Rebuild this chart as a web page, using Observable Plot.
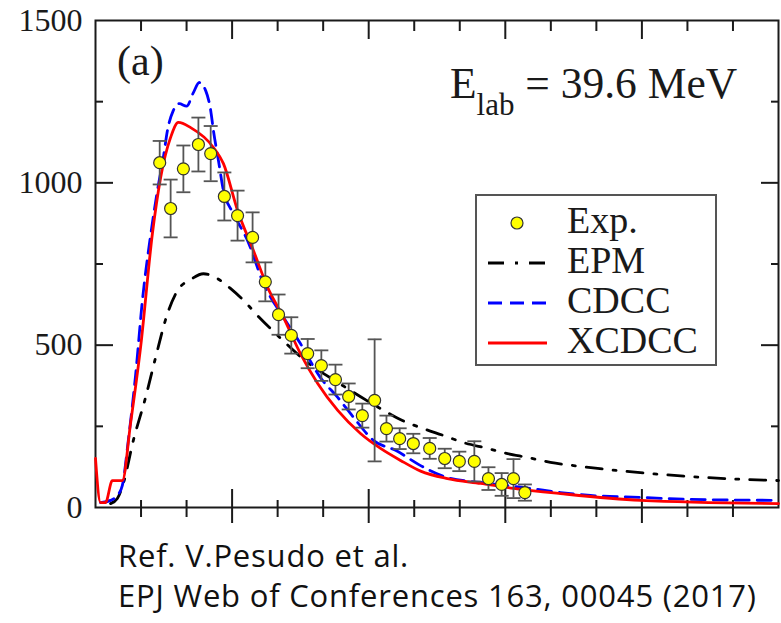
<!DOCTYPE html>
<html>
<head>
<meta charset="utf-8">
<script src="https://cdn.jsdelivr.net/npm/d3@7"></script>
<script src="https://cdn.jsdelivr.net/npm/@observablehq/plot@0.6"></script>
<style>
  body { margin: 0; background: #fff; }
  #wrap { position: relative; width: 781px; height: 623px; overflow: hidden; background: #fff; }
  #chart svg { display: block; }
  #overlay { position: absolute; left: 0; top: 0; pointer-events: none; }
  .caption { position: absolute; left: 118px; font-family: "Open Sans", "Noto Sans", sans-serif;
             font-size: 31px; letter-spacing: 0.8px; line-height: 1; color: #111; white-space: nowrap; }
</style>
</head>
<body>
<div id="wrap">
  <div id="chart"></div>
  <svg id="overlay" width="781" height="530"></svg>
  <div class="caption" style="top:540px">Ref. V.Pesudo et al.</div>
  <div class="caption" style="top:580px">EPJ Web of Conferences 163, 00045 (2017)</div>
</div>
<script>
// Experimental angular distribution (with uncertainties)
const expTheta = [14.1, 16.5, 19.3, 22.6, 25.3, 28.3, 31.2, 34.5, 37.3, 40.2, 43.0, 46.6, 49.6, 52.7,
                  55.6, 58.6, 61.3, 63.9, 66.8, 69.8, 73.4, 76.7, 79.9, 83.2, 86.3, 89.2, 91.8, 94.3];
const expValue = [1062, 921, 1043, 1118, 1090, 958, 899, 832, 695, 594, 530, 474, 437, 394,
                  342, 283, 330, 243, 212, 197, 182, 151, 142, 142, 89, 71, 89, 46];
const expError = [67, 89, 72, 83, 85, 74, 77, 77, 60, 62, 56, 45, 47, 46,
                  40, 37, 188, 40, 32, 30, 32, 30, 30, 62, 35, 35, 60, 25];

// EPM calculation
const epmTheta = [3.3, 4.8, 6.1, 8.3, 11.0, 13.2, 15.8, 18.0, 20.9, 23.7, 26.4, 29.7, 32.5, 36.2, 40.0,
                  46.0, 53.8, 63.3, 67.4, 72.0, 76.4, 80.8, 86.1, 90.5, 94.9, 99.9, 105.0, 114.6,
                  124.1, 134.4, 143.2, 150];
const epmValue = [12, 28, 74, 206, 339, 462, 597, 668, 702, 720, 708, 674, 638, 582, 530,
                  453, 380, 299, 268, 243, 222, 200, 182, 166, 154, 139, 129, 114,
                  102, 92, 86, 83];

// CDCC calculation
const cdccTheta = [1.1, 3.3, 4.8, 5.9, 7.2, 8.8, 10.3, 12.1, 13.6, 14.9, 15.8, 17.1, 18.4, 20.0, 21.5,
                   22.8, 24.2, 25.3, 25.9, 27.0, 28.1, 30.3, 33.4, 36.9, 41.3, 45.0, 49.4, 53.2,
                   56.7, 61.1, 65.9, 71.4, 77.3, 84.6, 95.5, 102.1, 108.7, 119.7, 130.7, 150];
const cdccValue = [15, 22, 37, 68, 206, 407, 638, 838, 976, 1078, 1161, 1223, 1244, 1236, 1278,
                   1309, 1284, 1223, 1161, 1069, 976, 905, 822, 690, 585, 505, 400, 339,
                   277, 206, 176, 129, 92, 77, 59, 46, 37, 31, 25, 22];

// XCDCC calculation
const xcdccTheta = [0, 1.1, 2.2, 3.7, 5.9, 7.7, 9.9, 12.5, 14.3, 16.5, 18.2, 20.9, 25.9, 28.1, 31.2,
                    34.7, 37.8, 41.3, 45.0, 48.8, 53.2, 58.2, 62.6, 67.0, 71.4, 77.3, 84.6, 91.8,
                    102.1, 119.7, 150];
const xcdccValue = [151, 15, 15, 83, 83, 259, 493, 844, 1016, 1140, 1186, 1170, 1109, 1059, 915,
                    791, 678, 585, 474, 382, 299, 228, 182, 145, 112, 89, 74, 59,
                    43, 22, 12];

// Axis ticks
const yLabelTicks = [0, 500, 1000, 1500];
const yMajorTicks = [500, 1000];
const yMinorTicks = [250, 750, 1250];
const xMajorTicks = [30, 60, 90, 120];
const xMinorTicks = [10, 20, 40, 50, 70, 80, 100, 110, 130, 140];

// Legend and annotations
const legendLabels = ["Exp.", "EPM", "CDCC", "XCDCC"];
const panelLabel = "(a)";
const energyLabel = ["E", "lab", " = 39.6 MeV"];

const exp = expTheta.map((t, i) => ({theta: t, value: expValue[i], lo: expValue[i] - expError[i], hi: expValue[i] + expError[i]}));
const toRows = (ts, vs) => ts.map((t, i) => ({theta: t, value: vs[i]}));
const epm = toRows(epmTheta, epmValue);
const cdcc = toRows(cdccTheta, cdccValue);
const xcdcc = toRows(xcdccTheta, xcdccValue);

const serif = "'Liberation Serif', 'Times New Roman', serif";
const ink = "#1a1a1a";
const capSymbol = {draw(ctx) { ctx.moveTo(-7, 0); ctx.lineTo(7, 0); }};
const blank = () => "";

const chart = Plot.plot({
  width: 781,
  height: 530,
  marginLeft: 95,
  marginRight: 3,
  marginTop: 20,
  marginBottom: 23,
  style: {fontFamily: serif, background: "white", overflow: "visible"},
  x: {domain: [0, 150]},
  y: {domain: [0, 1500]},
  marks: [
    // tick labels
    Plot.axisY({ticks: yLabelTicks, tickSize: 0, tickPadding: 13, tickFormat: d => String(d),
                fontSize: 32, fill: ink, label: null}),
    // inward ticks, left and right
    Plot.axisY({ticks: yMajorTicks, tickSize: -18, tickFormat: blank, stroke: ink, strokeWidth: 2, label: null}),
    Plot.axisY({ticks: yMinorTicks, tickSize: -8, tickFormat: blank, stroke: ink, strokeWidth: 2, label: null}),
    Plot.axisY({anchor: "right", ticks: yMajorTicks, tickSize: -18, tickFormat: blank, stroke: ink, strokeWidth: 2, label: null}),
    Plot.axisY({anchor: "right", ticks: yMinorTicks, tickSize: -8, tickFormat: blank, stroke: ink, strokeWidth: 2, label: null}),
    // top ticks (inward)
    Plot.axisX({anchor: "top", ticks: xMajorTicks, tickSize: -18, tickFormat: blank, stroke: ink, strokeWidth: 2, label: null}),
    Plot.axisX({anchor: "top", ticks: xMinorTicks, tickSize: -10, tickFormat: blank, stroke: ink, strokeWidth: 2, label: null}),
    // bottom ticks (both sides)
    Plot.axisX({anchor: "bottom", ticks: xMajorTicks, tickSize: -18, tickFormat: blank, stroke: ink, strokeWidth: 2, label: null}),
    Plot.axisX({anchor: "bottom", ticks: xMajorTicks, tickSize: 16, tickFormat: blank, stroke: ink, strokeWidth: 2, label: null}),
    Plot.axisX({anchor: "bottom", ticks: xMinorTicks, tickSize: -7, tickFormat: blank, stroke: ink, strokeWidth: 2, label: null}),
    Plot.axisX({anchor: "bottom", ticks: xMinorTicks, tickSize: 10, tickFormat: blank, stroke: ink, strokeWidth: 2, label: null}),
    Plot.frame({stroke: ink, strokeWidth: 2}),
    // theory curves
    Plot.line(epm, {x: "theta", y: "value", stroke: "#000", strokeWidth: 2.8,
                    strokeDasharray: "16,11,3,11", curve: "monotone-x"}),
    Plot.line(cdcc, {x: "theta", y: "value", stroke: "#0000ff", strokeWidth: 2.8,
                     strokeDasharray: "14,8", curve: "monotone-x"}),
    Plot.line(xcdcc, {x: "theta", y: "value", stroke: "#ff0000", strokeWidth: 2.8, curve: "monotone-x"}),
    // data with error bars
    Plot.ruleX(exp, {x: "theta", y1: "lo", y2: "hi", stroke: "#555", strokeWidth: 1.8}),
    Plot.dot(exp, {x: "theta", y: "lo", symbol: capSymbol, fill: "none", stroke: "#555", strokeWidth: 1.8}),
    Plot.dot(exp, {x: "theta", y: "hi", symbol: capSymbol, fill: "none", stroke: "#555", strokeWidth: 1.8}),
    Plot.dot(exp, {x: "theta", y: "value", r: 6, fill: "#ffff00", stroke: "#333", strokeWidth: 1.2})
  ]
});
document.getElementById("chart").append(chart);

// Annotations and legend drawn on top of the plot
const ov = d3.select("#overlay");
ov.append("text").attr("x", 117).attr("y", 75)
  .attr("font-family", serif).attr("font-size", 42).attr("fill", ink).text(panelLabel);
const el = ov.append("text").attr("x", 450).attr("y", 98)
  .attr("font-family", serif).attr("font-size", 43.5).attr("fill", ink);
el.append("tspan").text(energyLabel[0]);
el.append("tspan").attr("font-size", 31).attr("dy", 17).text(energyLabel[1]);
el.append("tspan").attr("dy", -17).style("white-space", "pre").text(energyLabel[2]);

const lg = ov.append("g");
lg.append("rect").attr("x", 476).attr("y", 195).attr("width", 240).attr("height", 170)
  .attr("fill", "#fff").attr("stroke", "#555").attr("stroke-width", 2);
const rowY = i => 233 + 40 * i;
lg.selectAll("text.lab").data(legendLabels).join("text").attr("class", "lab")
  .attr("x", 567).attr("y", (d, i) => rowY(i))
  .attr("font-family", serif).attr("font-size", 38).attr("fill", ink).text(d => d);
lg.append("circle").attr("cx", 517).attr("cy", rowY(0) - 10).attr("r", 6)
  .attr("fill", "#ffff00").attr("stroke", "#333").attr("stroke-width", 1.2);
const swatches = [
  {stroke: "#000", dash: "16,11,3,11"},
  {stroke: "#0000ff", dash: "14,8"},
  {stroke: "#ff0000", dash: null}
];
swatches.forEach((s, k) => {
  lg.append("line").attr("x1", 488).attr("x2", 547)
    .attr("y1", rowY(k + 1) - 10).attr("y2", rowY(k + 1) - 10)
    .attr("stroke", s.stroke).attr("stroke-width", 2.8)
    .attr("stroke-dasharray", s.dash);
});
</script>
</body>
</html>
